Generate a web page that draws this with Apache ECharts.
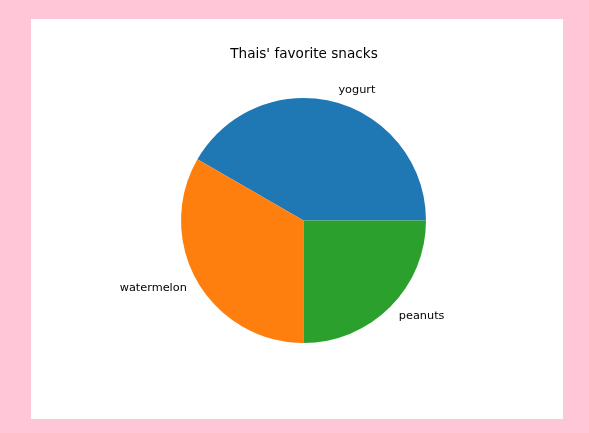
<!DOCTYPE html>
<html>
<head>
<meta charset="utf-8">
<script src="https://cdn.jsdelivr.net/npm/echarts@6/dist/echarts.min.js"></script>
<style>
html,body{margin:0;padding:0;background:#ffc6d8;}
#chart{width:589px;height:433px;}
</style>
</head>
<body>
<div id="chart"></div>
<script>
const categories = ['yogurt', 'watermelon', 'peanuts'];
const values = [5, 4, 3];
const colors = ['#1f77b4', '#ff7f0e', '#2ca02c'];
const titleText = "Thais' favorite snacks";

const chart = echarts.init(document.getElementById('chart'), null, {renderer: 'canvas'});
const R = 122.5;
chart.setOption({
  backgroundColor: '#ffc6d8',
  animation: false,
  graphic: [
    {type: 'rect', z: -10, shape: {x: 31, y: 19, width: 532, height: 400}, style: {fill: '#ffffff'}},
    {type: 'text', x: 304, y: 54, style: {text: titleText, fontFamily: 'DejaVu Sans', fontSize: 13.6, fill: '#000', align: 'center', verticalAlign: 'middle'}}
  ],
  series: [{
    type: 'pie',
    center: [303.5, 220.5],
    radius: [0, R],
    startAngle: 0,
    clockwise: false,
    avoidLabelOverlap: false,
    data: categories.map((c, i) => ({name: c, value: values[i], itemStyle: {color: colors[i]}})),
    label: {
      show: true,
      position: 'outside',
      formatter: '{b}',
      fontFamily: 'DejaVu Sans',
      fontSize: 11.3,
      color: '#000',
      distanceToLabelLine: 0
    },
    labelLine: {show: false, length: R * 0.1, length2: 0},
    itemStyle: {borderWidth: 0},
    emphasis: {disabled: true}
  }]
});
</script>
</body>
</html>
